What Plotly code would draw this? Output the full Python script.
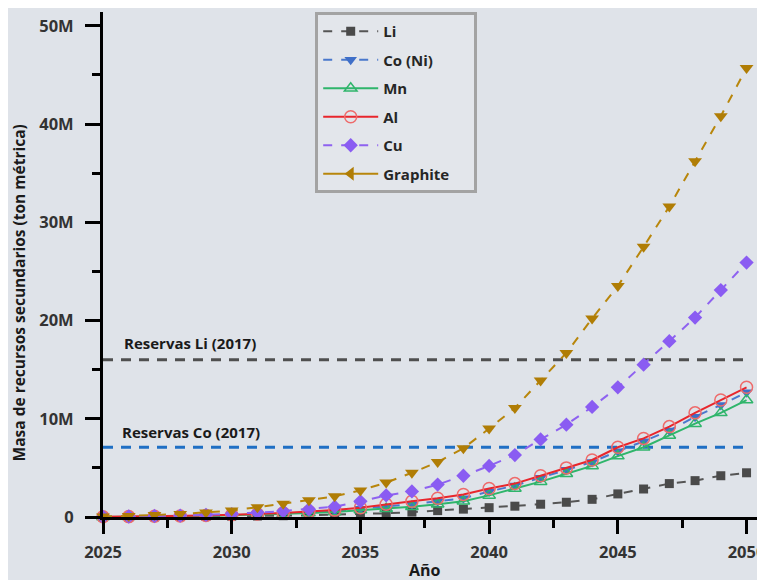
import plotly.graph_objects as go

years = list(range(2025, 2051))

li = [0.0, 0.01, 0.02, 0.04, 0.06, 0.08, 0.1, 0.13, 0.17, 0.22, 0.3, 0.38, 0.5, 0.65, 0.8, 0.95,
      1.1, 1.3, 1.5, 1.8, 2.35, 2.85, 3.4, 3.7, 4.2, 4.5]
co = [0.01, 0.03, 0.06, 0.09, 0.13, 0.2, 0.27, 0.36, 0.48, 0.62, 0.85, 1.05, 1.3, 1.6, 1.9, 2.6,
      3.2, 4.0, 4.8, 5.6, 6.7, 7.7, 8.8, 10.2, 11.4, 12.7]
mn = [0.01, 0.02, 0.05, 0.08, 0.11, 0.17, 0.23, 0.3, 0.4, 0.52, 0.7, 0.85, 1.05, 1.3, 1.6, 2.2,
      2.9, 3.6, 4.4, 5.2, 6.2, 7.1, 8.3, 9.5, 10.6, 11.9]
al = [0.02, 0.04, 0.07, 0.1, 0.15, 0.22, 0.3, 0.4, 0.55, 0.7, 0.95, 1.3, 1.6, 1.9, 2.3, 2.9,
      3.4, 4.2, 5.0, 5.8, 7.1, 8.0, 9.2, 10.6, 11.9, 13.2]
cu = [0.02, 0.05, 0.1, 0.15, 0.22, 0.3, 0.45, 0.6, 0.8, 1.05, 1.6, 2.2, 2.6, 3.3, 4.2, 5.2,
      6.3, 7.9, 9.4, 11.2, 13.2, 15.5, 17.9, 20.3, 23.1, 25.9]
graphite = [0.05, 0.1, 0.2, 0.3, 0.45, 0.65, 1.0, 1.35, 1.7, 2.1, 2.7, 3.5, 4.5, 5.6, 7.0, 9.0,
            11.1, 13.9, 16.7, 20.2, 23.5, 27.5, 31.6, 36.2, 40.8, 45.7]

reserve_li = 16.0   # millions of tonnes
reserve_co = 7.1
reserve_years = [2025, 2050]

y_tickvals = [0, 10, 20, 30, 40, 50]
y_ticktext = ["0", "10M", "20M", "30M", "40M", "50M"]
x_tickvals = [2025, 2030, 2035, 2040, 2045, 2050]

M = 1e6
FONT = "Open Sans"
BG = "#dfe3e9"
PAGE_OFFSET = 8  # default body margin of the html page

fig = go.Figure()

# reserve lines
fig.add_trace(go.Scatter(x=reserve_years, y=[reserve_li * M] * 2, mode="lines",
                         line=dict(color="#4f4f4f", width=3, dash="10px,8px"),
                         showlegend=False, hoverinfo="skip"))
fig.add_trace(go.Scatter(x=reserve_years, y=[reserve_co * M] * 2, mode="lines",
                         line=dict(color="#1f6fc4", width=3, dash="10px,8px"),
                         showlegend=False, hoverinfo="skip"))

series = [
    ("Li", li, "#555555", "#4a4a4a", "square", 9, "dash", True),
    ("Co (Ni)", co, "#4a78cc", "#3f6fc8", "triangle-down", 11, "dash", True),
    ("Mn", mn, "#2fb56b", "#2fb56b", "triangle-up-open", 11, "solid", True),
    ("Al", al, "#e8262c", "#ee6b6b", "circle-open", 12, "solid", True),
    ("Cu", cu, "#8e62f0", "#8a5cf2", "diamond", 11, "dash", True),
    ("Graphite", graphite, "#b8860b", "#b07d05", "triangle-down", 12, "dash", False),
]

for i, (name, vals, lc, mc, sym, size, dash, showleg) in enumerate(series):
    fig.add_trace(go.Scatter(
        x=years, y=[v * M for v in vals], mode="lines+markers", name=name,
        line=dict(color=lc, width=2, dash=dash),
        marker=dict(symbol=sym, size=size, color=mc,
                    line=dict(color=mc, width=1.5 if "open" in sym else 0)),
        showlegend=showleg, legendgroup=name, legendrank=i + 1,
        cliponaxis=False,
    ))

# legend entry for Graphite uses a left-pointing triangle
fig.add_trace(go.Scatter(
    x=[None], y=[None], mode="lines+markers", name="Graphite\u00a0\u00a0\u00a0\u00a0\u00a0",
    line=dict(color="#b8860b", width=2),
    marker=dict(symbol="triangle-left", size=12, color="#b07d05"),
    legendgroup="Graphite", legendrank=6, showlegend=True,
))

annotations = [
    dict(x=2025.72, y=17.7 * M, xref="x", yref="y", text="Reservas Li (2017)",
         showarrow=False, xanchor="left", yanchor="middle",
         font=dict(family=FONT, size=15, color="#1a1a1a", weight="bold")),
    dict(x=2025.65, y=8.65 * M, xref="x", yref="y", text="Reservas Co (2017)",
         showarrow=False, xanchor="left", yanchor="middle",
         font=dict(family=FONT, size=15, color="#1a1a1a", weight="bold")),
    dict(x=-0.128, y=0.444, xref="paper", yref="paper",
         text="Masa de recursos secundarios (ton métrica)", textangle=-90,
         showarrow=False, xanchor="center", yanchor="middle",
         font=dict(family=FONT, size=15.5, color="#1a1a1a", weight="bold")),
    dict(x=0.489, y=-0.104, xref="paper", yref="paper", text="Año",
         showarrow=False, xanchor="center", yanchor="middle",
         font=dict(family=FONT, size=16, color="#1a1a1a", weight="bold")),
]

fig.update_layout(
    width=765 - PAGE_OFFSET, height=580 - PAGE_OFFSET,
    margin=dict(l=103 - PAGE_OFFSET, r=0, t=12 - PAGE_OFFSET, b=63),
    paper_bgcolor=BG, plot_bgcolor=BG,
    font=dict(family=FONT, color="#333333"),
    annotations=annotations,
    legend=dict(
        x=0.322, y=1.0, xanchor="left", yanchor="top",
        bgcolor="#e3e6eb", bordercolor="#a3a3a3", borderwidth=3,
        font=dict(family=FONT, size=15, color="#262626", weight="bold"),
        tracegroupgap=6, itemwidth=55, traceorder="grouped",
    ),
    xaxis=dict(
        range=[2025, 2050.6], showgrid=False, zeroline=False,
        showline=True, linecolor="black", linewidth=3,
        tickvals=x_tickvals, ticks="outside", ticklen=14, tickwidth=3, tickcolor="black",
        ticklabelstandoff=4, ticklabeloverflow="allow",
        minor=dict(dtick=2.5, tick0=2025, ticks="outside", ticklen=8, tickwidth=3, tickcolor="black"),
        tickfont=dict(family=FONT, size=16.5, color="#333333", weight="bold"),
    ),
    yaxis=dict(
        range=[0, 51.4 * M], showgrid=False, zeroline=False,
        showline=True, linecolor="black", linewidth=3,
        tickvals=[v * M for v in y_tickvals], ticktext=y_ticktext,
        ticks="outside", ticklen=15, tickwidth=3, tickcolor="black",
        ticklabelstandoff=8,
        minor=dict(dtick=5 * M, tick0=0, ticks="outside", ticklen=8, tickwidth=3, tickcolor="black"),
        tickfont=dict(family=FONT, size=16.5, color="#333333", weight="bold"),
    ),
)

fig.write_html("out.html")
